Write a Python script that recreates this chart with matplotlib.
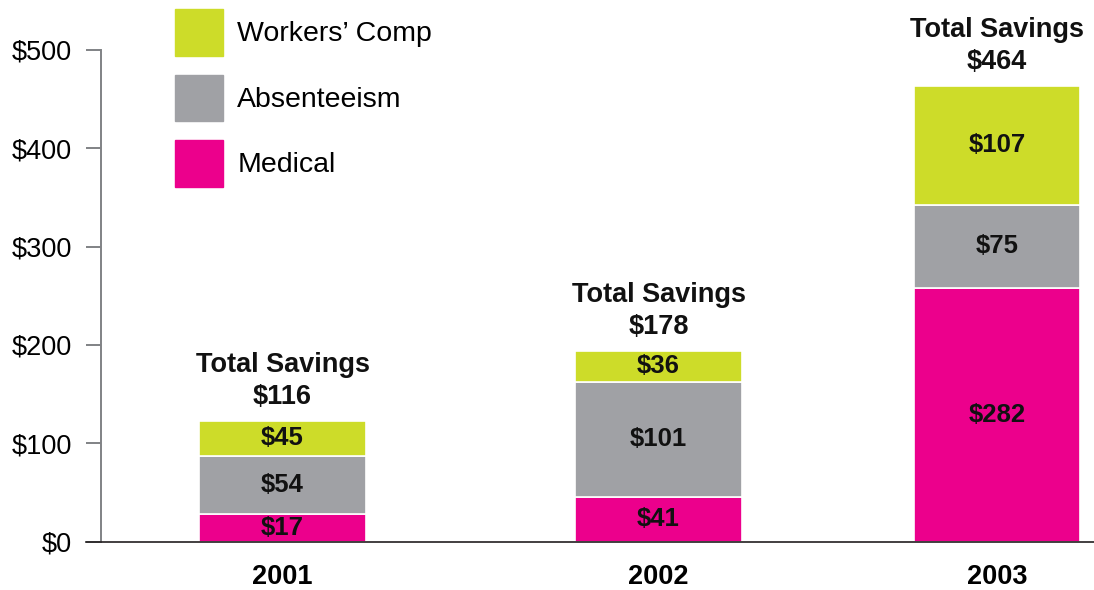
import matplotlib.pyplot as plt
from matplotlib.patches import Patch

plt.rcParams['font.family'] = ['Liberation Sans', 'DejaVu Sans']

years = ['2001', '2002', '2003']
# segment heights as drawn in the picture
medical = [28, 45.5, 258]
absent = [59, 117, 84.5]
workers = [36, 31.5, 121]
# printed values
medical_lbl = ['$17', '$41', '$282']
absent_lbl = ['$54', '$101', '$75']
workers_lbl = ['$45', '$36', '$107']
totals_lbl = ['$116', '$178', '$464']

xpos = [0, 1, 1.9]
c_med = '#ec008c'
c_abs = '#a0a1a5'
c_wc = '#cddc29'

fig = plt.figure(figsize=(10.94, 5.90), dpi=100)
ax = fig.add_axes([0.0923, 0.0819, 0.9077, 0.8334])

w = 0.444
b1 = ax.bar(xpos, medical, w, color=c_med, edgecolor='white', linewidth=1.2)
bot2 = [m for m in medical]
b2 = ax.bar(xpos, absent, w, bottom=bot2, color=c_abs, edgecolor='white', linewidth=1.2)
bot3 = [m + a for m, a in zip(medical, absent)]
b3 = ax.bar(xpos, workers, w, bottom=bot3, color=c_wc, edgecolor='white', linewidth=1.2)

for bars, lbls in ((b1, medical_lbl), (b2, absent_lbl), (b3, workers_lbl)):
    ax.bar_label(bars, labels=lbls, label_type='center', fontsize=18.5,
                 fontweight='bold', color='#111111')

tops = [b + w_ for b, w_ in zip(bot3, workers)]
for x, t, lbl in zip(xpos, tops, totals_lbl):
    ax.annotate('Total Savings\n' + lbl, (x, t), xytext=(0, 8),
                textcoords='offset points', ha='center', va='bottom',
                fontsize=19.5, fontweight='bold', color='#111111',
                linespacing=1.3, annotation_clip=False)

ax.set_xlim(-0.483, 2.158)
ax.set_ylim(0, 500)
ax.set_yticks([0, 100, 200, 300, 400, 500])
ax.set_yticklabels(['$0', '$100', '$200', '$300', '$400', '$500'], fontsize=19.5)
ax.set_xticks(xpos)
ax.set_xticklabels(years, fontsize=19.5, fontweight='bold')
ax.tick_params(axis='x', length=0, pad=16)
ax.tick_params(axis='y', length=11, width=1.4, color='#808285', pad=10)

for s in ('top', 'right', 'bottom'):
    ax.spines[s].set_visible(False)
ax.spines['left'].set_color('#808285')
ax.spines['left'].set_linewidth(1.4)
ax.plot([-0.0151, 1], [0, 0], transform=ax.get_yaxis_transform(),
        color='#231f20', linewidth=1.2, clip_on=False, zorder=5)

handles = [Patch(color=c_wc), Patch(color=c_abs), Patch(color=c_med)]
fig.legend(handles, ["Workers\u2019 Comp", 'Absenteeism', 'Medical'],
           loc='upper left', bbox_to_anchor=(175 / 1094, 1 - 9 / 590),
           frameon=False, fontsize=20.5, handlelength=1.69, handleheight=2.15,
           labelspacing=0.66, handletextpad=0.5, borderpad=0, borderaxespad=0)

fig.savefig('out.png', dpi=100)
